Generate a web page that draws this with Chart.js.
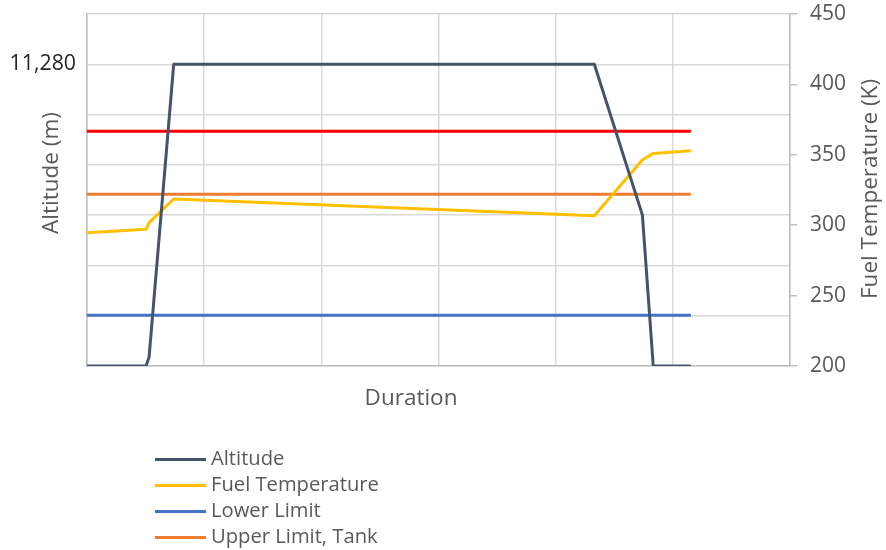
<!DOCTYPE html>
<html>
<head>
<meta charset="utf-8">
<script src="https://cdn.jsdelivr.net/npm/chart.js@4/dist/chart.umd.min.js"></script>
<style>
  html, body { margin: 0; padding: 0; background: #ffffff; }
  #wrap { width: 886px; height: 550px; position: relative; }
</style>
</head>
<body>
<div id="wrap"><canvas id="chart" width="886" height="550"></canvas></div>
<script>
// Flight profile: time points (duration units) shared by both series
const duration    = [0, 0.504, 0.53, 0.74, 4.33, 4.74, 4.833, 5.154];
const altitude    = [0, 0, 340, 11280, 11280, 5650, 0, 0];                // m
const fuelTemp    = [294.7, 297.1, 301.8, 318.6, 306.7, 346.3, 351, 352.8]; // K

// Constant temperature limits (K)
const lowerLimit      = 236;
const upperLimitTank  = 322;
const upperLimitFuel  = 366.8;

// Axis ranges / ticks
const altitudeStep  = 1880;
const altitudeMax   = 13160;
const altitudeLabel = 11280;
const tempMin = 200, tempMax = 450, tempStep = 50;
const durationMax = 6;

const textColor = '#595959';
const gridColor = '#d9d9d9';
const axisColor = '#bfbfbf';
const fontFamily = '"Open Sans", "Liberation Sans", sans-serif';

const pts = (ys) => duration.map((x, i) => ({ x, y: ys[i] }));
const flat = (v) => [{ x: duration[0], y: v }, { x: duration[duration.length - 1], y: v }];

const lineBase = { borderWidth: 3, pointRadius: 0, pointHoverRadius: 0, fill: false, tension: 0, borderJoinStyle: 'round' };

const datasets = [
  { ...lineBase, label: 'Altitude', data: pts(altitude), borderColor: '#44546a', yAxisID: 'y', order: 0 },
  { ...lineBase, label: 'Fuel Temperature', data: pts(fuelTemp), borderColor: '#ffc000', yAxisID: 'y2', order: 1 },
  { ...lineBase, label: 'Lower Limit', data: flat(lowerLimit), borderColor: '#4472c4', yAxisID: 'y2', order: 2 },
  { ...lineBase, label: 'Upper Limit, Tank', data: flat(upperLimitTank), borderColor: '#ed7d31', yAxisID: 'y2', order: 3 },
  { ...lineBase, label: 'Upper Limit', data: flat(upperLimitFuel), borderColor: '#ff0000', yAxisID: 'y2', order: 4, inLegend: false }
];

// Axis titles and the stacked legend under the plot
const annotate = {
  id: 'annotate',
  afterDraw(chart) {
    const ctx = chart.ctx;
    ctx.save();
    ctx.fillStyle = textColor;
    ctx.font = '22.5px ' + fontFamily;
    ctx.textAlign = 'center';
    ctx.textBaseline = 'middle';

    ctx.save();
    ctx.translate(52, 173);
    ctx.rotate(-Math.PI / 2);
    ctx.fillText('Altitude (m)', 0, 0);
    ctx.restore();

    ctx.save();
    ctx.translate(871, 189);
    ctx.rotate(-Math.PI / 2);
    ctx.fillText('Fuel Temperature (K)', 0, 0);
    ctx.restore();

    ctx.fillText('Duration', 411, 399);

    // legend
    ctx.font = '20.2px ' + fontFamily;
    ctx.textAlign = 'left';
    let y = 459.5;
    chart.data.datasets.filter(d => d.inLegend !== false).forEach(d => {
      ctx.strokeStyle = d.borderColor;
      ctx.lineWidth = 3;
      ctx.beginPath();
      ctx.moveTo(155, y);
      ctx.lineTo(206, y);
      ctx.stroke();
      ctx.fillText(d.label, 211, y);
      y += 26;
    });
    ctx.restore();
  }
};

const noOverflow = (s) => { s.paddingTop = 0; s.paddingBottom = 0; };

new Chart(document.getElementById('chart'), {
  type: 'line',
  data: { datasets },
  plugins: [annotate],
  options: {
    responsive: false,
    animation: false,
    events: [],
    layout: { padding: { top: 14, left: 0, right: 0, bottom: 0 } },
    plugins: { legend: { display: false }, tooltip: { enabled: false } },
    scales: {
      x: {
        type: 'linear',
        min: 0, max: durationMax,
        ticks: { display: false, stepSize: 1 },
        grid: { color: gridColor, lineWidth: 1.5, drawTicks: false },
        border: { color: axisColor, width: 1.5 },
        afterFit: (s) => { s.height = 184; s.paddingLeft = 0; s.paddingRight = 0; }
      },
      y: {
        position: 'left',
        min: 0, max: altitudeMax,
        ticks: {
          stepSize: altitudeStep,
          color: '#262626',
          padding: 11,
          font: { family: fontFamily, size: 21.3 },
          callback: (v) => (Math.abs(v - altitudeLabel) < 1 ? altitudeLabel.toLocaleString('en-US') : '')
        },
        grid: { color: gridColor, lineWidth: 1.5, drawTicks: false },
        border: { color: axisColor, width: 1.5 },
        afterFit: (s) => { s.width = 87; noOverflow(s); }
      },
      y2: {
        position: 'right',
        min: tempMin, max: tempMax,
        ticks: {
          stepSize: tempStep,
          color: textColor,
          padding: 13,
          font: { family: fontFamily, size: 21 }
        },
        grid: { drawOnChartArea: false, color: axisColor, tickLength: 7, lineWidth: 1.5 },
        border: { color: axisColor, width: 1.5 },
        afterFit: (s) => { s.width = 96; noOverflow(s); }
      }
    }
  }
});
</script>
</body>
</html>
